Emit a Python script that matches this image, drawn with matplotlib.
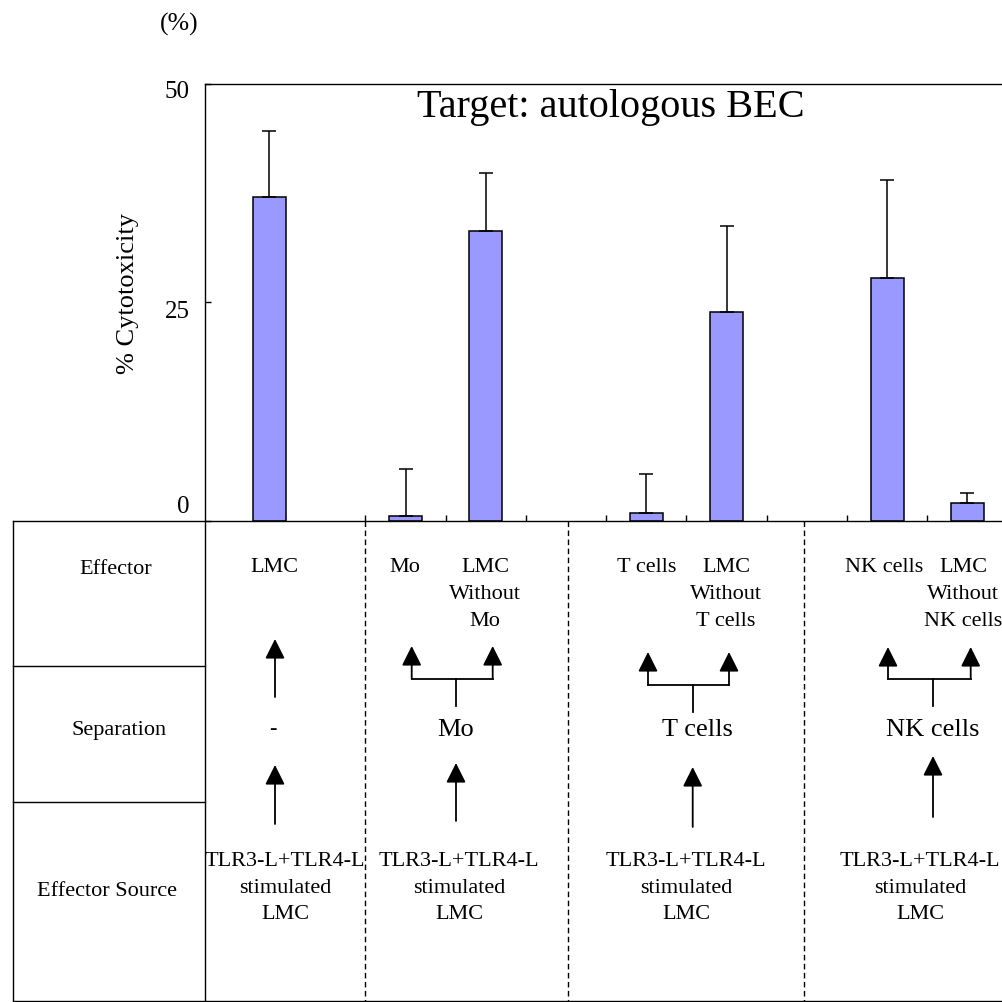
import matplotlib
matplotlib.use("Agg")
import matplotlib.pyplot as plt

plt.rcParams['font.family'] = ['Liberation Serif', 'DejaVu Serif']

# cytotoxicity against autologous BEC (mean, upper error)
effectors = ['LMC', 'Mo', 'LMC\nWithout\nMo', 'T cells', 'LMC\nWithout\nT cells',
             'NK cells', 'LMC\nWithout\nNK cells']
cytotox = [37.1, 0.5, 33.2, 0.9, 23.9, 27.8, 2.0]
err_up = [7.5, 5.4, 6.6, 4.5, 9.8, 11.2, 1.2]
bar_pos = [0.8, 2.5, 3.5, 5.5, 6.5, 8.5, 9.5]
yticks = [0, 25, 50]

separations = ['-', 'Mo', 'T cells', 'NK cells']
source = 'TLR3-L+TLR4-L\nstimulated\nLMC'
row_names = ['Effector', 'Separation', 'Effector Source']

W = 1003
fig = plt.figure(figsize=(W / 100, W / 100), dpi=100)

# pixel geometry of the plot box
x0, ytop, yzero = 205, 85, 521.7
unit = 80.25
ax = fig.add_axes([x0 / W, (W - yzero) / W, (W - x0) / W, (yzero - ytop) / W])
ax.bar(bar_pos, cytotox, width=0.41, color='#9999FF', edgecolor='black', linewidth=1.1, zorder=2)
ax.errorbar(bar_pos, cytotox, yerr=[[0] * len(err_up), err_up], fmt='none', ecolor='black',
            elinewidth=1.1, capsize=4.7, capthick=1.1, zorder=3)
ax.set_xlim(0, (W - x0) / unit)
ax.set_ylim(0, 50)
ax.set_xticks(range(1, 10))
ax.set_xticklabels([])
ax.set_yticks(yticks)
ax.set_yticklabels([])
ax.tick_params(axis='both', direction='in', length=4, width=1.0)
ax.spines['right'].set_visible(False)
ax.spines['bottom'].set_visible(False)
for s in ['left', 'top']:
    ax.spines[s].set_linewidth(1.0)

# overlay in pixel coordinates for labels and the table below
ov = fig.add_axes([0, 0, 1, 1], zorder=5)
ov.set_xlim(0, W)
ov.set_ylim(W, 0)
ov.axis('off')
ov.patch.set_alpha(0)

ov.text(611, 107, 'Target: autologous BEC', fontsize=29, ha='center', va='center')
ov.text(179, 24, '(%)', fontsize=18.5, ha='center', va='center')
ov.text(128, 293, '% Cytotoxicity', fontsize=19, rotation=90, ha='center', va='center')
for lab, yy in zip(yticks, [506.7, 311.7, 91.7]):
    ov.text(190, yy, str(lab), fontsize=18, ha='right', va='center')

# table frame
lw = 1.0
bot = 1001.5
ov.plot([13, W], [yzero, yzero], color='black', lw=lw)
ov.plot([13, W], [bot, bot], color='black', lw=lw)
ov.plot([13, 13], [yzero, bot], color='black', lw=lw)
ov.plot([x0, x0], [yzero, bot], color='black', lw=lw)
for yy in [666.7, 803]:
    ov.plot([13, x0], [yy, yy], color='black', lw=lw)
for xx in [365.5, 568, 804]:
    ov.plot([xx, xx], [yzero, bot], color='black', lw=1.0, ls=(0, (4, 2.5)))

fs = 16
for name, (xx, yy) in zip(row_names, [(116, 569), (119, 731), (107, 892)]):
    ov.text(xx, yy, name, fontsize=fs, ha='center', va='center')


def lines(text, x, y_first, step=26.5):
    for i, part in enumerate(text.split('\n')):
        ov.text(x, y_first + i * step, part, fontsize=fs, ha='center', va='center')


# effector labels
eff_x = [274, 405, 485, 647, 726, 884, 963]
for lab, xx in zip(effectors, eff_x):
    lines(lab, xx, 568)


def arrow(x, tail, head):
    ov.annotate('', xy=(x, head), xytext=(x, tail),
                arrowprops=dict(arrowstyle='-|>', mutation_scale=30, color='black',
                                lw=1.3, shrinkA=0, shrinkB=0))


# column 1: no separation
arrow(275, 698, 640)
arrow(275, 825, 766)

# branched columns: (left, right, center, head top, bar y, stem bottom, lower arrow head, lower tail)
branches = [
    (411.7, 492.7, 456, 647, 680, 707, 764, 822),
    (648, 729, 692.7, 653, 686, 713, 768, 828),
    (888, 970.7, 933, 648, 680, 707, 757, 818),
]
for (xl, xr, xc, ht, hb, sb, lh, lt) in branches:
    arrow(xl, hb, ht)
    arrow(xr, hb, ht)
    ov.plot([xl, xr], [hb, hb], color='black', lw=1.3)
    ov.plot([xc, xc], [hb, sb], color='black', lw=1.3)
    arrow(xc, lt, lh)

sep_x = [273, 456, 697, 933]
for lab, xx in zip(separations, sep_x):
    ov.text(xx, 730, lab, fontsize=fs if lab == '-' else 19, ha='center', va='center')

src_x = [285, 459, 686, 920]
for xx in src_x:
    lines(source, xx, 862)

fig.savefig('out.png', dpi=100)
